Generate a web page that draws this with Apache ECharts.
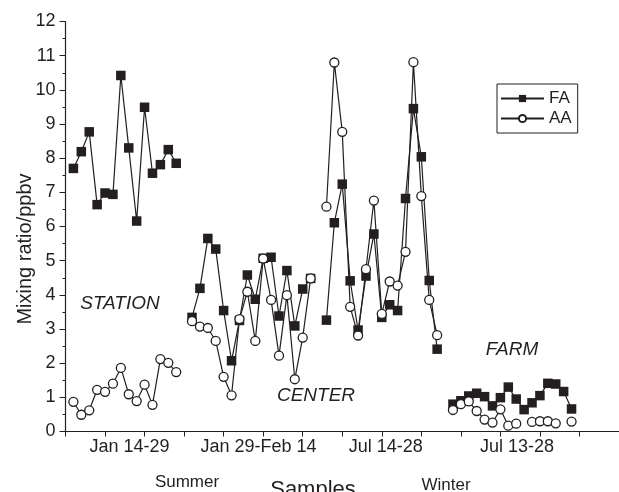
<!DOCTYPE html>
<html>
<head>
<meta charset="utf-8">
<script src="https://cdn.jsdelivr.net/npm/echarts@6/dist/echarts.min.js"></script>
<style>
  html, body { margin: 0; padding: 0; background: #fff; }
  #chart { width: 619px; height: 492px; }
</style>
</head>
<body>
<div id="chart"></div>
<script>
// sample index where each campaign starts
var groupStart = [1, 16, 33, 49];

// STATION, Jan 14-29
var stationFA = [7.70, 8.19, 8.77, 6.64, 6.98, 6.94, 10.42, 8.30, 6.16, 9.49, 7.56, 7.81, 8.25, 7.85];
var stationAA = [0.87, 0.49, 0.62, 1.22, 1.16, 1.40, 1.86, 1.09, 0.89, 1.37, 0.78, 2.12, 2.01, 1.74];
// CENTER, Jan 29-Feb 14
var centerFA = [3.34, 4.19, 5.65, 5.34, 3.54, 2.07, 3.25, 4.58, 3.87, 5.07, 5.10, 3.38, 4.71, 3.09, 4.17, 4.48];
var centerAA = [3.23, 3.07, 3.03, 2.65, 1.60, 1.06, 3.29, 4.09, 2.65, 5.06, 3.85, 2.22, 3.99, 1.53, 2.75, 4.48];
// CENTER, Jul 14-28
var julyFA = [3.26, 6.11, 7.24, 4.41, 2.97, 4.55, 5.78, 3.34, 3.71, 3.54, 6.82, 9.45, 8.04, 4.42, 2.41];
var julyAA = [6.58, 10.80, 8.77, 3.65, 2.81, 4.75, 6.76, 3.44, 4.39, 4.27, 5.26, 10.81, 6.89, 3.85, 2.82];
// FARM, Jul 13-28
var farmFA = [0.80, 0.90, 1.04, 1.12, 1.02, 0.75, 0.99, 1.30, 0.95, 0.64, 0.84, 1.05, 1.41, 1.39, 1.17, 0.66];
var farmAA = [0.63, 0.80, 0.88, 0.60, 0.35, 0.26, 0.65, 0.17, 0.23, null, 0.28, 0.30, 0.30, 0.24, null, 0.29];

// period labels on the x axis and where they sit (sample units)
var periodLabels = ['Jan 14-29', 'Jan 29-Feb 14', 'Jul 14-28', 'Jul 13-28'];
var periodAt = [8.1, 24.4, 40.5, 57.1];

var ink = '#231f20';
var font = 'Liberation Sans, Arial, sans-serif';

function pairs(start, arr) {
    return arr.map(function (v, i) { return [start + i, v == null ? '-' : v]; });
}

function faSeries(start, arr) {
    return {
        name: 'FA', type: 'line', data: pairs(start, arr),
        symbol: 'rect', symbolSize: 9.5, connectNulls: false,
        lineStyle: { color: ink, width: 1.2 },
        itemStyle: { color: ink },
        z: 2
    };
}
function aaSeries(start, arr) {
    return {
        name: 'AA', type: 'line', data: pairs(start, arr),
        symbol: 'circle', symbolSize: 9, connectNulls: false,
        lineStyle: { color: ink, width: 1.2 },
        itemStyle: { color: '#fff', borderColor: ink, borderWidth: 1.3 },
        z: 3
    };
}

var chart = echarts.init(document.getElementById('chart'));

var option = {
    animation: false,
    backgroundColor: '#fff',
    textStyle: { fontFamily: font, color: ink },
    grid: { left: 65.5, top: 21.5, width: 556.5, bottom: 60.5 },
    legend: {
        data: ['FA', 'AA'],
        orient: 'vertical',
        left: 497, top: 84,
        itemWidth: 43, itemHeight: 9, itemGap: 3,
        padding: [6, 6, 6, 3],
        borderColor: ink, borderWidth: 1,
        textStyle: { fontSize: 17, color: ink, fontFamily: font }
    },
    xAxis: {
        type: 'value', min: 0, max: 70, interval: 5,
        axisLine: { lineStyle: { color: ink, width: 1.2 } },
        axisTick: { show: true, length: 5, lineStyle: { color: ink } },
        splitLine: { show: false },
        axisLabel: {
            customValues: periodAt,
            fontSize: 18, color: ink, margin: 7,
            formatter: function (v) {
                var i = periodAt.indexOf(v);
                return i >= 0 ? periodLabels[i] : '';
            }
        }
    },
    yAxis: {
        type: 'value', min: 0, max: 12, interval: 1,
        axisLine: { show: true, lineStyle: { color: ink, width: 1.2 } },
        axisTick: { show: true, length: 6, lineStyle: { color: ink } },
        minorTick: { show: true, splitNumber: 2, length: 3, lineStyle: { color: ink } },
        splitLine: { show: false },
        axisLabel: { fontSize: 18, color: ink, margin: 10 }
    },
    graphic: [
        { type: 'text', x: 25, y: 249, rotation: Math.PI / 2,
          style: { text: 'Mixing ratio/ppbv', font: '20px ' + font, fill: ink, align: 'center', verticalAlign: 'middle' } },
        { type: 'text', x: 120, y: 303.5,
          style: { text: 'STATION', font: 'italic 19px ' + font, fill: ink, align: 'center', verticalAlign: 'middle' } },
        { type: 'text', x: 316, y: 396,
          style: { text: 'CENTER', font: 'italic 19px ' + font, fill: ink, align: 'center', verticalAlign: 'middle' } },
        { type: 'text', x: 512, y: 350,
          style: { text: 'FARM', font: 'italic 19px ' + font, fill: ink, align: 'center', verticalAlign: 'middle' } },
        { type: 'text', x: 187, y: 482,
          style: { text: 'Summer', font: '17px ' + font, fill: ink, align: 'center', verticalAlign: 'middle' } },
        { type: 'text', x: 446, y: 485,
          style: { text: 'Winter', font: '17px ' + font, fill: ink, align: 'center', verticalAlign: 'middle' } },
        { type: 'text', x: 313, y: 490,
          style: { text: 'Samples', font: '22px ' + font, fill: ink, align: 'center', verticalAlign: 'middle' } }
    ],
    series: [
        faSeries(groupStart[0], stationFA), aaSeries(groupStart[0], stationAA),
        faSeries(groupStart[1], centerFA), aaSeries(groupStart[1], centerAA),
        faSeries(groupStart[2], julyFA), aaSeries(groupStart[2], julyAA),
        faSeries(groupStart[3], farmFA), aaSeries(groupStart[3], farmAA)
    ]
};

chart.setOption(option);
</script>
</body>
</html>
